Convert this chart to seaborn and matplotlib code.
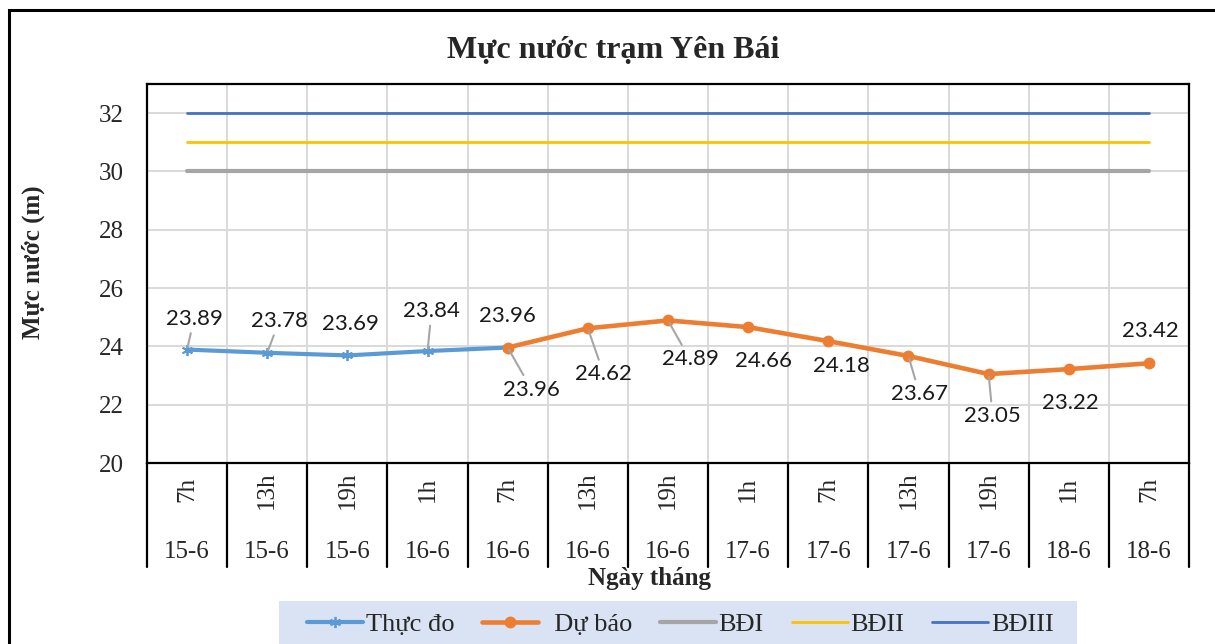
import numpy as np
import pandas as pd
import matplotlib.pyplot as plt
import seaborn as sns
from matplotlib.patches import Rectangle
from matplotlib.lines import Line2D

# --- data ---
gio = ['7h', '13h', '19h', '1h', '7h', '13h', '19h', '1h', '7h', '13h', '19h', '1h', '7h']
ngay = ['15-6', '15-6', '15-6', '16-6', '16-6', '16-6', '16-6', '17-6', '17-6', '17-6', '17-6', '18-6', '18-6']
thuc_do = [23.89, 23.78, 23.69, 23.84, 23.96]
du_bao = [23.96, 24.62, 24.89, 24.66, 24.18, 23.67, 23.05, 23.22, 23.42]
bao_dong = {'BĐI': 30, 'BĐII': 31, 'BĐIII': 32}

# label layout (pixel offsets from point, leader line on/off)
off_td = [(7, -31, True), (12, -32, True), (3, -31, False), (4, -40, True), (0, -32, False)]
off_db = [(24, 42, True), (16, 46, True), (22, 39, True), (15, 34, False), (13, 25, False),
          (11, 38, True), (4, 42, True), (2, 34, False), (1, -32, False)]

n = len(gio)
x_td = np.arange(len(thuc_do))
x_db = np.arange(n - len(du_bao), n)

sns.set_style("white")
plt.rcParams['font.family'] = ['Liberation Serif', 'DejaVu Serif']

fig, ax = plt.subplots(figsize=(12.15, 6.44), dpi=100)
fig.subplots_adjust(left=147/1215, right=1189/1215, bottom=1-463/644, top=1-84/644)

bd_colors = {'BĐI': '#A5A5A5', 'BĐII': '#FFC000', 'BĐIII': '#4472C4'}
bd_lw = {'BĐI': 3.0, 'BĐII': 2.0, 'BĐIII': 2.0}
for name, level in bao_dong.items():
    sns.lineplot(x=np.arange(n), y=[level] * n, ax=ax, color=bd_colors[name],
                 lw=bd_lw[name], zorder=3)

sns.lineplot(x=x_td, y=thuc_do, ax=ax, color='#5B9BD5', lw=3.0,
             marker=(6, 2, 0), markersize=8, markeredgewidth=1.3,
             markeredgecolor='#5B9BD5', zorder=4)
sns.lineplot(x=x_db, y=du_bao, ax=ax, color='#ED7D31', lw=3.3,
             marker='o', markersize=8.5, markeredgewidth=0,
             zorder=5)

def label(xs, ys, offs):
    for xi, yi, (dx, dy, lead) in zip(xs, ys, offs):
        kw = {}
        if lead:
            kw['arrowprops'] = dict(arrowstyle='-', color='#A6A6A6', lw=1.5,
                                    shrinkA=1, shrinkB=2)
        ax.annotate(f'{yi:.2f}', (xi, yi), xytext=(dx, -dy), textcoords='offset pixels',
                    ha='center', va='center', fontsize=16, family=['Lato', 'DejaVu Sans'],
                    color='#1a1a1a', zorder=6, **kw)

label(x_td, thuc_do, off_td)
label(x_db, du_bao, off_db)

ax.set_xlim(-0.5, n - 0.5)
ax.set_ylim(20, 33)
ax.set_yticks(np.arange(20, 33, 2))
ax.set_xticks([])
ax.set_xticks(np.arange(0.5, n - 0.5, 1), minor=True)
ax.grid(True, which='major', axis='y', color='#D9D9D9', lw=1.4, zorder=0)
ax.grid(True, which='minor', axis='x', color='#D9D9D9', lw=1.4, zorder=0)
ax.tick_params(axis='y', length=0, pad=17, labelsize=18)
ax.tick_params(axis='x', which='both', length=0, labelbottom=False)
for s in ax.spines.values():
    s.set_color('black')
    s.set_linewidth(1.6)
ax.set_axisbelow(True)

# multi-level category axis
tr = ax.get_xaxis_transform()
for i in range(n):
    ax.text(i, -0.071, gio[i], transform=tr, rotation=90, ha='center', va='center', fontsize=18)
    ax.text(i, -0.235, ngay[i], transform=tr, ha='center', va='center', fontsize=18)
for k in range(n + 1):
    ax.add_line(Line2D([k - 0.5, k - 0.5], [0, -0.275], transform=tr, color='black',
                       lw=1.6, clip_on=False))

fig.text(613/1215, 1-50/644, 'Mực nước trạm Yên Bái', ha='center', va='center',
         fontsize=23, fontweight='bold')
fig.text(650/1215, 1-578/644, 'Ngày tháng', ha='center', va='center',
         fontsize=18, fontweight='bold')
fig.text(33/1215, 1-262/644, 'Mực nước (m)', ha='center', va='center', rotation=90,
         fontsize=18, fontweight='bold')

# legend
fig.patches.append(Rectangle((279/1215, -0.1), (1077-279)/1215, 0.1 + 1-601/644,
                             transform=fig.transFigure, facecolor='#DAE3F3',
                             edgecolor='none', zorder=0))
handles = [
    Line2D([], [], color='#5B9BD5', lw=3.0, marker=(6, 2, 0), markersize=8, markeredgewidth=1.3),
    Line2D([], [], color='#ED7D31', lw=3.3, marker='o', markersize=8.5, markeredgewidth=0),
    Line2D([], [], color=bd_colors['BĐI'], lw=bd_lw['BĐI']),
    Line2D([], [], color=bd_colors['BĐII'], lw=bd_lw['BĐII']),
    Line2D([], [], color=bd_colors['BĐIII'], lw=bd_lw['BĐIII']),
]
labels = ['Thực đo', '  Dự báo'] + list(bao_dong.keys())
leg = fig.legend(handles, labels, loc='center left', bbox_to_anchor=(307/1215, 1-624/644),
                 ncol=5, fontsize=19, frameon=False, handlelength=2.12,
                 handletextpad=0.1, columnspacing=1.06, borderpad=0, borderaxespad=0)

# outer chart border
fig.patches.append(Rectangle((9/1215, -0.2), 1.2, 1.2 - 10/644, transform=fig.transFigure,
                             fill=False, edgecolor='black', lw=2.2))

fig.patch.set_facecolor('white')
plt.savefig('out.png', dpi=100, facecolor='white')
